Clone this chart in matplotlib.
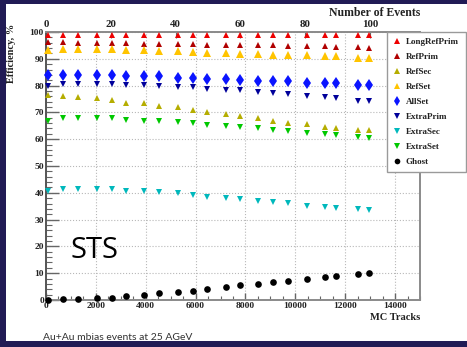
import matplotlib
matplotlib.use("Agg")
import matplotlib.pyplot as plt
from matplotlib.patches import Rectangle
from matplotlib.ticker import MultipleLocator

# ---- data -------------------------------------------------------------
mc_tracks = [80, 680, 1280, 2040, 2640, 3200, 3920, 4520, 5280, 5880, 6440,
             7200, 7800, 8520, 9120, 9720, 10480, 11200, 11640, 12520, 12960]

long_ref_prim = [99.0, 99.0, 99.0, 99.0, 99.0, 99.0, 98.9, 98.9, 98.9, 98.9, 98.9,
                 98.9, 98.8, 98.8, 98.8, 98.8, 98.8, 98.8, 98.8, 98.7, 98.7]
ref_prim = [96.2, 96.1, 96.0, 96.0, 95.9, 95.8, 95.7, 95.6, 95.5, 95.4, 95.3,
            95.2, 95.1, 95.1, 95.0, 94.9, 94.7, 94.6, 94.5, 94.3, 94.2]
ref_sec = [76.5, 76.1, 75.7, 75.5, 74.6, 73.6, 73.4, 72.4, 72.1, 70.9, 70.0,
           69.4, 68.8, 67.8, 66.9, 66.2, 65.5, 64.4, 64.2, 63.4, 63.3]
ref_set = [93.4, 93.6, 93.6, 93.6, 93.5, 93.3, 93.2, 92.9, 92.8, 92.5, 92.3,
           92.0, 91.7, 91.8, 91.6, 91.5, 91.3, 91.0, 91.0, 90.4, 90.3]
all_set = [84.0, 84.0, 84.0, 84.0, 83.9, 83.6, 83.5, 83.4, 83.0, 82.8, 82.4,
           82.3, 82.2, 81.9, 81.7, 81.6, 81.1, 81.0, 80.9, 80.2, 80.1]
extra_prim = [79.9, 80.5, 80.6, 80.7, 80.6, 80.3, 80.1, 80.0, 79.6, 79.3, 78.8,
              78.4, 78.2, 77.6, 77.1, 76.8, 76.3, 75.7, 75.5, 74.4, 74.1]
extra_sec = [40.8, 41.4, 41.4, 41.4, 41.4, 40.8, 40.8, 40.2, 39.8, 39.2, 38.6,
             38.2, 37.7, 36.9, 36.7, 36.1, 35.2, 34.6, 34.3, 34.0, 33.6]
extra_set = [66.9, 67.8, 67.8, 67.9, 67.8, 67.3, 66.9, 66.8, 66.3, 65.9, 65.3,
             64.9, 64.7, 64.1, 63.4, 63.1, 62.3, 61.9, 61.7, 60.8, 60.6]
ghost = [0.1, 0.2, 0.3, 0.6, 0.9, 1.5, 1.9, 2.5, 3.0, 3.5, 4.1,
         4.7, 5.5, 6.1, 6.7, 7.2, 8.0, 8.6, 9.1, 9.7, 10.0]

series_names = ["LongRefPrim", "RefPrim", "RefSec", "RefSet", "AllSet",
                "ExtraPrim", "ExtraSec", "ExtraSet", "Ghost"]
series_values = [long_ref_prim, ref_prim, ref_sec, ref_set, all_set,
                 extra_prim, extra_sec, extra_set, ghost]

event_ticks = [0, 20, 40, 60, 80, 100]
tracks_per_event = 130.0

# ---- styles -----------------------------------------------------------
styles = {
    "LongRefPrim": dict(marker="^", color="#ee0000", ms=5.0),
    "RefPrim":     dict(marker="^", color="#b00000", ms=5.0),
    "RefSec":      dict(marker="^", color="#b5ad00", ms=5.0),
    "RefSet":      dict(marker="^", color="#ffc400", ms=5.5),
    "AllSet":      dict(marker="d", color="#0a14ff", ms=6.0),
    "ExtraPrim":   dict(marker="v", color="#00009a", ms=5.0),
    "ExtraSec":    dict(marker="v", color="#00b8bc", ms=5.0),
    "ExtraSet":    dict(marker="v", color="#00c800", ms=5.0),
    "Ghost":       dict(marker="o", color="#000000", ms=4.8),
}

navy = "#211b55"
W, H = 467, 347
fig = plt.figure(figsize=(W / 100, H / 100), dpi=100)
fig.patch.set_facecolor(navy)

# white slide panel
fig.patches.append(Rectangle((6 / W, 1 - 341 / H), 1 - 6 / W, (341 - 4) / H,
                             transform=fig.transFigure, facecolor="white",
                             edgecolor="none", zorder=-5))

serif = dict(family="Liberation Serif", weight="bold")

left, right, top, bottom = 46, 420, 32, 300
ax = fig.add_axes([left / W, 1 - bottom / H, (right - left) / W, (bottom - top) / H])
ax.set_facecolor("white")

for name, vals in zip(series_names, series_values):
    st = styles[name]
    ax.plot(mc_tracks, vals, linestyle="none", marker=st["marker"],
            color=st["color"], markersize=st["ms"], markeredgewidth=0,
            label=name, clip_on=False, zorder=3)

ax.set_xlim(0, 15000)
ax.set_ylim(0, 100)
ax.xaxis.set_major_locator(MultipleLocator(2000))
ax.xaxis.set_minor_locator(MultipleLocator(500))
ax.yaxis.set_major_locator(MultipleLocator(10))
ax.yaxis.set_minor_locator(MultipleLocator(2))
ax.set_xticks([0, 2000, 4000, 6000, 8000, 10000, 12000, 14000])

ax.grid(True, which="major", color="#b8b8b8", linestyle=":", linewidth=0.8)
ax.set_axisbelow(True)

ax.tick_params(axis="both", which="major", direction="in", length=9,
               width=1.0, color="#666666", labelsize=6.8, pad=1.5)
ax.tick_params(axis="both", which="minor", direction="in", length=4.5,
               width=0.8, color="#666666")
ax.tick_params(axis="x", which="major", length=5)
ax.tick_params(axis="x", which="minor", length=3)
for lab in ax.get_xticklabels() + ax.get_yticklabels():
    lab.set_fontfamily("Liberation Serif")
    lab.set_fontweight("bold")
    lab.set_color("#222222")

for side in ["left", "bottom", "top", "right"]:
    ax.spines[side].set_color("#8a8a8a")
    ax.spines[side].set_linewidth(1.4)
ax.spines["left"].set_color("#555555")

# top axis in number of events
top_ax = ax.secondary_xaxis("top", functions=(lambda t: t / tracks_per_event,
                                              lambda e: e * tracks_per_event))
top_ax.set_xticks(event_ticks)
top_ax.tick_params(axis="x", direction="in", length=4, width=0.8,
                   color="#666666", labelsize=7.8, pad=2.5)
for lab in top_ax.get_xticklabels():
    lab.set_fontfamily("Liberation Serif")
    lab.set_fontweight("bold")
    lab.set_color("#222222")
top_ax.spines["top"].set_visible(False)

# axis titles
fig.text(right / W, 1 - 12.5 / H, "Number of Events", ha="right", va="center",
         fontsize=8.5, color="#222222", **serif)
fig.text(right / W, 1 - 318 / H, "MC Tracks", ha="right", va="center",
         fontsize=7.5, color="#222222", **serif)
fig.text(12 / W, 1 - 24 / H, "Efficiency, %", ha="center", va="top",
         rotation=90, fontsize=7.5, color="#222222", **serif)

# legend box
leg = ax.legend(loc="upper left", bbox_to_anchor=(387 / W, 1 - 173 / H, 79 / W, 141 / H),
                bbox_transform=fig.transFigure, mode="expand",
                frameon=True, fancybox=False, edgecolor="#9a9a9a",
                framealpha=1, borderaxespad=0, borderpad=0.6,
                labelspacing=0.75, handlelength=1.0, handletextpad=0.5,
                markerscale=0.85,
                prop=dict(family="Liberation Serif", weight="bold", size=6.5))
leg.get_frame().set_linewidth(1.0)
for txt in leg.get_texts():
    txt.set_color("#222222")

# slide annotations
fig.text(70 / W, 1 - 250 / H, "STS", ha="left", va="center", fontsize=21,
         family="Open Sans", color="black")
fig.text(43 / W, 1 - 337 / H, "Au+Au mbias events at 25 AGeV", ha="left",
         va="center", fontsize=7.5, family="Lato", color="#333333")

fig.savefig("out.png", dpi=100, facecolor=fig.get_facecolor())
